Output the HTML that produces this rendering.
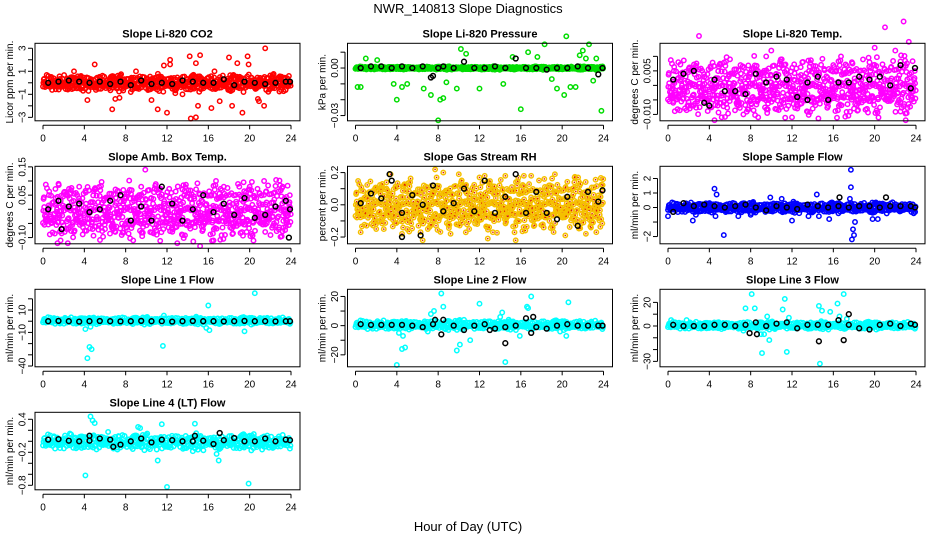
<!DOCTYPE html>
<html><head><meta charset="utf-8"><style>
html,body{margin:0;padding:0;background:#fff}
svg{display:block;font-family:"Liberation Sans",Arial,sans-serif}
</style></head><body>
<svg id="chart" width="936" height="540" viewBox="0 0 936 540">
<text x="468" y="13" text-anchor="middle" font-size="13">NWR_140813  Slope Diagnostics</text>
<text x="468" y="531" text-anchor="middle" font-size="13">Hour of Day (UTC)</text>
</svg>
<script>
// ---- data ----
const xTicks = [0,4,8,12,16,20,24];
const meanHours = [0.5,1.5,2.5,3.5,4.5,5.5,6.5,7.5,8.5,9.5,10.5,11.5,12.5,13.5,14.5,15.5,16.5,17.5,18.5,19.5,20.5,21.5,22.5,23.5,23.9];

const titles = ["Slope Li-820 CO2","Slope Li-820 Pressure","Slope Li-820 Temp.","Slope Amb. Box Temp.","Slope Gas Stream RH","Slope Sample Flow","Slope Line 1 Flow","Slope Line 2 Flow","Slope Line 3 Flow","Slope Line 4 (LT) Flow"];
const yTitles = ["Licor ppm per min.","kPa per min.","degrees C per min.","degrees C per min.","percent per min.","ml/min per min.","ml/min per min.","ml/min per min.","ml/min per min.","ml/min per min."];
const yDomains = [[-3.3,3.43],[-0.0333,0.0156],[-0.0122,0.0145],[-0.122,0.152],[-0.242,0.239],[-2.5,2.84],[-40.7,28.5],[-28.2,24.9],[-34.6,31.1],[-0.882,0.527]];
const yTickVals = [[-3,-2,-1,0,1,2,3],[0.01,0,-0.01,-0.02,-0.03],[0.01,0.005,0,-0.005,-0.01],[0.15,0.1,0.05,0,-0.05,-0.1],[0.2,0.1,0,-0.1,-0.2],[2,1,0,-1,-2],[20,10,0,-10,-20,-30,-40],[20,10,0,-10,-20],[20,10,0,-10,-20,-30],[0.4,0.2,0,-0.2,-0.4,-0.6,-0.8]];
const yTickLabels = [[["3",3],["1",1],["\u22121",-1],["\u22123",-3]],[["0.00",0],["\u22120.03",-0.03]],[["0.005",0.005],["\u22120.010",-0.01]],[["0.15",0.15],["0.05",0.05],["\u22120.10",-0.1]],[["0.2",0.2],["0.0",0],["\u22120.2",-0.2]],[["2",2],["1",1],["0",0],["\u22122",-2]],[["10",10],["\u221210",-10],["\u221240",-40]],[["20",20],["0",0],["\u221220",-20]],[["20",20],["0",0],["\u221230",-30]],[["0.4",0.4],["\u22120.2",-0.2],["\u22120.8",-0.8]]];
const colors = ["#ff0000","#00dd00","#ff00ff","#ff00ff","#f5c000","#0000ff","#00ffff","#00ffff","#00ffff","#00ffff"];
const bands = [[-0.55,0.55],[-0.0008,0.0008],[-0.008,0.007],[-0.08,0.07],[-0.12,0.12],[-0.28,0.28],[-2,3],[-2,3],[-2,3],[-0.12,0.1]];
const bandDensity = [600,500,800,800,850,550,450,450,450,450];

const outliers = [
 [[4.3,-1.5],[4.4,-0.7],[5,1.6],[6.7,-2.3],[7.4,-1.3],[7,-1.4],[11.1,-2.3],[11.7,1.5],[12,-2.6],[12.3,2],[12.3,1.6],[14.2,2.3],[14.3,-3.1],[14.8,-3],[15.2,2.4],[14.8,1.7],[15,-2],[16.3,-2.2],[17.1,-1.6],[18,2.2],[18.3,-2],[18.8,1.7],[19.3,-2.6],[19.8,2.3],[19.9,1.6],[21.5,3],[21.4,-2],[20.9,-1.6],[20.8,-1.4],[16.6,1],[13.5,-1],[9,1],[10.5,-1.5],[3,1],[8.5,-0.8],[12.8,-0.9]],
 [[0.2,-0.012],[0.5,-0.012],[4,-0.02],[3.7,-0.01],[4.5,-0.012],[6.6,-0.013],[7.3,-0.017],[8,-0.033],[8.2,-0.02],[8.5,-0.019],[8.8,-0.009],[9.8,-0.013],[10.2,0.012],[10.7,0.009],[12,-0.013],[14.3,-0.01],[15.2,0.007],[16,-0.026],[16.7,0.01],[17.6,0.007],[18.3,0.015],[19.5,-0.013],[20.2,-0.017],[20.4,0.02],[20.8,-0.012],[21.3,-0.012],[21.7,0.008],[22,0.011],[22.3,0.006],[22.6,0.015],[23.8,-0.027],[23.3,0.006],[23,-0.008],[1,0.006],[2.1,0.005],[5,-0.01],[19,-0.007]],
 [[3,0.017],[4.5,-0.012],[5.2,-0.011],[7.3,-0.01],[8.7,0.005],[10,0.012],[12,-0.011],[14,-0.008],[18,-0.008],[19.5,0.008],[20,0.013],[21,0.02],[22,0.012],[22.8,0.022],[23,-0.012],[23.3,0.015],[22.5,-0.009],[16,0.007],[6,0.009],[11,0.009],[1,0.008],[0.5,-0.006],[2,-0.007],[9.5,0.01],[17.8,0.008],[13,0.008]],
 [[9.9,0.14],[1.5,0.09],[1.4,-0.12],[1.7,-0.11],[2.4,-0.12],[3.5,0.08],[6,-0.07],[9.5,0.08],[13,-0.12],[15.2,-0.13],[16.5,-0.11],[17.5,0.08],[19,0.08],[20,0.08],[21.4,0.1],[21.5,-0.08],[23.2,0.08],[3,-0.08],[11,-0.09],[19.7,-0.08],[23.5,-0.06],[5,0.07],[13.5,0.07],[7,-0.08]],
 [[0.5,-0.17],[3.4,0.19],[3,0.14],[4.5,-0.18],[5,-0.15],[6.3,-0.17],[6.5,-0.22],[7.7,0.22],[8.5,0.2],[9.2,-0.18],[10,0.19],[12,0.17],[12.5,0.18],[12.8,-0.21],[13.3,-0.17],[15.5,-0.22],[16.3,0.18],[17,0.18],[19.3,0.19],[20.3,-0.19],[22.3,-0.18],[23.3,-0.17],[14.5,0.18],[11,-0.15],[2,-0.15],[21.2,0.17],[7,-0.15]],
 [[0,-0.6],[2.4,-0.9],[4.5,1.3],[4.7,0.9],[5.4,-1.9],[4.6,-0.6],[8,-0.5],[9.9,0.7],[12,-0.9],[14.4,0.9],[14.6,-0.6],[17.7,2.6],[17.7,1.4],[17.8,-2.2],[18,-1.9],[17.9,-1.5],[18.1,-1],[17.6,0.6],[19.8,-0.8],[20.3,-0.8],[13.6,-0.6],[11,0.6],[15.6,-0.8],[6.8,-0.6],[2.7,-0.5]],
 [[4.1,-7],[4.3,-33],[4.5,-23],[4.7,-25],[4.6,-5],[11.6,-22],[11.7,5],[16,14],[15.8,-6],[16.1,-8],[19.5,-9],[20.5,25],[21,3],[1,2]],
 [[4.2,-5],[4.5,-16],[4.6,-7],[4.8,-15],[4,-27],[6.7,3],[7.3,8],[7.6,10],[8.3,22],[8.5,13],[8.7,-2],[9.8,-17],[10.1,-13],[11.1,-10],[10.5,4],[12,15],[14,6],[14.2,9],[14.5,-25],[15.9,-7],[16.7,12],[16.6,13],[17,20],[19.8,-4],[20.4,-7],[20.6,16],[7,-4],[13,3],[9,-3]],
 [[0.3,5],[1.8,5],[7.5,15],[8.1,27],[8.4,15],[9.1,-23],[9.3,-7],[9.6,8],[9.8,-12],[10.3,-2],[11.1,14],[11.3,23],[11.5,-22],[11.7,7],[14.6,17],[14.9,13],[14.7,-32],[15.7,12],[16.4,19],[16.6,8],[17,27],[17.3,6],[7.3,-4],[9,-7],[12.4,-2],[15.2,3]],
 [[4.6,0.45],[4.8,0.38],[5,0.33],[4.1,-0.62],[6.3,0.17],[7.2,-0.15],[9.2,0.26],[9.4,0.24],[11,-0.15],[11.1,-0.35],[11.5,0.31],[12,-0.83],[14.5,-0.18],[14.7,0.32],[16.8,-0.23],[17,-0.35],[19.9,-0.77],[21.2,-0.15],[21.4,-0.1],[20.4,0.13],[2.6,0.14]]
];

const means = [
 [0,0.1,0.2,0.1,0,0.1,-0.1,0.1,-0.2,0.2,-0.1,0,-0.1,0.2,0.1,0,0,0.3,-0.2,0.1,0,-0.1,0,0.1,0.1],
 [0,0.001,0.001,0,0.001,0,0.001,-0.005,0.001,0,0.004,0,0,0.001,0,0.006,0,0,-0.001,0,0,0.001,0,-0.004,0],
 [0.002,0.004,0.005,-0.006,0.002,-0.002,-0.002,-0.003,0.004,0.001,0.003,0.002,-0.004,0.001,0.003,-0.005,0.001,0.001,0.003,0.002,0.003,0,0.007,-0.001,0.006],
 [0,0.03,0.01,0.02,-0.01,0,0.03,0.05,-0.04,0.01,-0.04,0.08,0.02,-0.04,0,0.05,-0.01,0.02,-0.02,0.04,-0.03,-0.02,0.01,0.03,0],
 [0.01,0.07,0.04,0.15,-0.05,0.06,0,0.12,-0.04,0.01,0.1,-0.04,0.15,-0.05,0.05,0.19,-0.05,0.08,-0.05,-0.09,0.05,-0.13,0.08,0.02,0.09],
 [-0.3,0.3,0.1,0.2,0.1,0,0.1,0.2,0,-0.2,0.1,0,-0.1,0.2,0.1,0,0.1,0,0.1,0.1,0,0.1,0.1,0.1,0],
 [0,0.3,0,-0.3,0,0.2,0,-0.2,0,0.3,0,0,-0.3,0,0.2,0,0,-0.2,0,0.3,0,0,-0.2,0,0],
 [1,0.5,0.5,0.5,0.5,0,-1,1,4,0,-3,0,1,-2,-1,0,5,-1,-2,0,1,0,0,0,0],
 [1,0,0,0,1,1,0,1,3,0,2,3,-2,1,1,1,5,1,-2,-3,1,2,0,2,1],
 [0.03,0.04,0.01,0.0,0.01,0.05,0.03,-0.06,0.0,0.05,-0.02,0.03,0.02,0.0,0.0,0.01,-0.05,0.02,0.06,0.0,0.0,0.05,0.0,0.03,0.02]
];
const extraMeans = [
 [],[[7.3,-0.006],[8,0.0]],[[4,-0.007],[13.5,-0.005]],[[23.8,-0.1],[1.8,-0.07]],[[4.5,-0.2],[6.3,-0.19],[3.3,0.19]],[[16.6,0.7],[21.1,0.7]],[],[[14.5,-12],[17.2,6],[7.7,4],[8.3,-6],[17,-5],[13,-3]],[[14.6,-13],[17,-12],[17.5,10],[7.9,-6],[8.6,-7]],[[17.1,0.15],[6.8,-0.1],[14.7,0.1],[4.5,0.1]]
];

// ---- drawing ----
const NS = "http://www.w3.org/2000/svg";
const svg = document.getElementById("chart");
function mk(tag, attrs, parent){ const e=document.createElementNS(NS,tag); for(const k in attrs) e.setAttribute(k,attrs[k]); (parent||svg).appendChild(e); return e; }

for(let p=0;p<10;p++){
  const r=Math.floor(p/3), c=p%3;
  const left=35+312.5*c, right=300+312.5*c, top=43.3+123*r, bottom=120.8+123*r;
  const x0=43+312.5*c, x24=291+312.5*c;
  const xs=h=>x0+(x24-x0)*h/24;
  const [ymin,ymax]=yDomains[p];
  const ys=v=>bottom-(v-ymin)/(ymax-ymin)*(bottom-top);
  const g=mk("g",{});
  
  
  const t=mk("text",{x:(left+right)/2,y:top-6,"text-anchor":"middle","font-size":"11","font-weight":"bold"},g);
  t.textContent=titles[p];
  
  
  const clip=mk("g",{},g);
  
  
  const col=colors[p];
  const pt=(h,v,stroke,rad)=>mk("circle",{cx:xs(h).toFixed(1),cy:ys(v).toFixed(1),r:rad||2.2,fill:"none",stroke:stroke,"stroke-width":1.5},clip);
  const [lo,hi]=bands[p]; const n=bandDensity[p];
  const mid=(lo+hi)/2, half=(hi-lo)/2;
  for(let i=0;i<n;i++){
    const h=i*24/n; const f=((i*i*37+i*11)%97)/96; const f2=((i*i*53+i*7+3)%89)/88;
    const v=mid+half*(2*f-1)*(0.55+0.9*f2);
    pt(h,v,col);
    if(p===4) mk("circle",{cx:xs(h).toFixed(1),cy:ys(v).toFixed(1),r:0.8,fill:"#e02000"},clip);
  }
  for(const [h,v] of outliers[p]){ pt(h,v,col); if(p===4) mk("circle",{cx:xs(h),cy:ys(v),r:0.8,fill:"#e02000"},clip); }
  for(let i=0;i<means[p].length;i++){ pt(meanHours[i],means[p][i],"#000",2.4); }
  for(const [h,v] of extraMeans[p]) pt(h,v,"#000",2.4);
  const box=mk("rect",{x:left,y:top,width:right-left,height:bottom-top,fill:"none",stroke:"#000","stroke-width":1},g);
  
  
  const ax=mk("g",{},g);
  
  
  const ay0=bottom+4.5;
  mk("line",{x1:xs(0),x2:xs(24),y1:ay0,y2:ay0,stroke:"#000"},ax);
  for(const tv of xTicks){
    mk("line",{x1:xs(tv),x2:xs(tv),y1:ay0,y2:ay0+4,stroke:"#000"},ax);
    const tl=mk("text",{x:xs(tv),y:bottom+20.5,"text-anchor":"middle","font-size":"10"},ax);
    tl.textContent=tv;
  }
  const yax=mk("g",{},g);
  
  
  const ax0=left-2.5; const tv=yTickVals[p];
  mk("line",{x1:ax0,x2:ax0,y1:ys(Math.max(...tv)),y2:ys(Math.min(...tv)),stroke:"#000"},yax);
  for(const v of tv) mk("line",{x1:ax0,x2:ax0-4.5,y1:ys(v),y2:ys(v),stroke:"#000"},yax);
  for(const [lab,v] of yTickLabels[p]){
    const lx=left-9.5, ly=ys(v);
    const tl=mk("text",{x:lx,y:ly,"text-anchor":"middle","font-size":"10",transform:`rotate(-90 ${lx} ${ly})`},yax);
    tl.textContent=lab;
  }
  const yx=left-22, yy=(top+bottom)/2;
  const yt=mk("text",{x:yx,y:yy,"text-anchor":"middle","font-size":"10",transform:`rotate(-90 ${yx} ${yy})`},g);
  yt.textContent=yTitles[p];
  
  
}
</script>
</body></html>
